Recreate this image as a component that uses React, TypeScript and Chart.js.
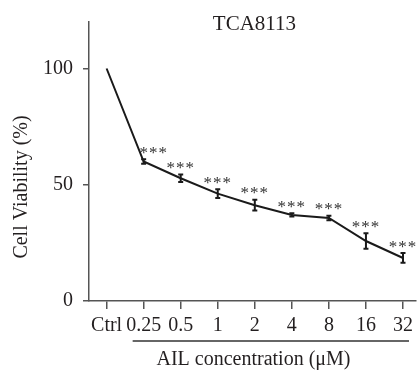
import React, { useEffect, useRef } from "react";
import { Chart, registerables } from "chart.js";

Chart.register(...registerables);

const categories = ["Ctrl", "0.25", "0.5", "1", "2", "4", "8", "16", "32"];
const viability = [100, 60.0, 52.8, 46.2, 41.2, 37.0, 35.7, 25.8, 18.5];
const errors = [0, 1.0, 1.6, 1.9, 2.3, 0.7, 1.0, 3.3, 2.1];
const significance = ["", "***", "***", "***", "***", "***", "***", "***", "***"];
const yTicks = [0, 50, 100];
const chartTitle = "TCA8113";
const xTitle = "AIL concentration (\u03bcM)";
const yTitle = "Cell Viability (%)";

const FONT = "'Liberation Serif', 'Times New Roman', serif";
const TEXT = "#231f20";
const AXIS = "#555555";

const annotatePlugin = {
  id: "annotate",
  afterDatasetsDraw(chart: any) {
    const { ctx, chartArea, scales } = chart;
    const xs = scales.x;
    const ys = scales.y;
    ctx.save();
    // error bars
    ctx.strokeStyle = "#1a1a1a";
    ctx.lineWidth = 2;
    viability.forEach((v, i) => {
      const e = errors[i];
      if (!e) return;
      const x = xs.getPixelForValue(i);
      const y1 = ys.getPixelForValue(v - e);
      const y2 = ys.getPixelForValue(v + e);
      ctx.beginPath();
      ctx.moveTo(x, y1);
      ctx.lineTo(x, y2);
      ctx.moveTo(x - 2.5, y1);
      ctx.lineTo(x + 2.5, y1);
      ctx.moveTo(x - 2.5, y2);
      ctx.lineTo(x + 2.5, y2);
      ctx.stroke();
    });
    // significance stars
    ctx.fillStyle = "#333333";
    ctx.font = `17px ${FONT}`;
    (ctx as any).letterSpacing = "1px";
    ctx.textAlign = "center";
    ctx.textBaseline = "middle";
    viability.forEach((v, i) => {
      const s = significance[i];
      if (!s) return;
      const x = xs.getPixelForValue(i) + (i === 1 ? 10 : 0);
      const y = ys.getPixelForValue(v + errors[i]) - 6;
      ctx.fillText(s, x, y);
    });
    (ctx as any).letterSpacing = "0px";
    // chart title
    ctx.fillStyle = TEXT;
    ctx.font = `21px ${FONT}`;
    ctx.textBaseline = "alphabetic";
    ctx.fillText(chartTitle, (chartArea.left + chartArea.right) / 2 + 2, 30);
    // x axis bracket line + title
    ctx.strokeStyle = "#333333";
    ctx.lineWidth = 1.5;
    ctx.beginPath();
    ctx.moveTo(xs.getPixelForValue(1) - 11, 341);
    ctx.lineTo(xs.getPixelForValue(8) + 6, 341);
    ctx.stroke();
    ctx.font = `20px ${FONT}`;
    ctx.fillText(xTitle, (chartArea.left + chartArea.right) / 2 + 1, 365);
    // y title
    ctx.translate(27, 187);
    ctx.rotate(-Math.PI / 2);
    ctx.fillText(yTitle, 0, 0);
    ctx.restore();
  },
};

export default function App() {
  const ref = useRef<HTMLCanvasElement>(null);
  useEffect(() => {
    if (!ref.current) return;
    const chart = new Chart(ref.current, {
      type: "line",
      data: {
        datasets: [
          {
            data: viability.map((v, i) => ({ x: i, y: v })),
            borderColor: "#1a1a1a",
            borderWidth: 2,
            pointRadius: 0,
            tension: 0,
            fill: false,
          },
        ],
      },
      options: {
        animation: false,
        responsive: false,
        maintainAspectRatio: false,
        layout: { padding: { top: 8, left: 0, right: 0, bottom: 0 } },
        plugins: { legend: { display: false }, tooltip: { enabled: false } },
        scales: {
          x: {
            type: "linear",
            min: -0.475,
            max: 8.35,
            afterBuildTicks: (axis: any) => {
              axis.ticks = categories.map((_, i) => ({ value: i }));
            },
            afterFit: (axis: any) => {
              axis.height = 73;
            },
            grid: {
              drawOnChartArea: false,
              drawTicks: true,
              tickLength: 8,
              color: AXIS,
              lineWidth: 1.5,
            },
            border: { display: true, color: AXIS, width: 1.5 },
            ticks: {
              autoSkip: false,
              maxRotation: 0,
              minRotation: 0,
              padding: 5,
              color: TEXT,
              font: { family: FONT, size: 20 },
              callback: (value: any) => categories[value] ?? "",
            },
          },
          y: {
            type: "linear",
            min: 0,
            max: 120,
            afterBuildTicks: (axis: any) => {
              axis.ticks = yTicks.map((v) => ({ value: v }));
            },
            afterFit: (axis: any) => {
              axis.width = 89;
            },
            grid: {
              drawOnChartArea: false,
              drawTicks: true,
              tickLength: 6,
              color: AXIS,
              lineWidth: 1.5,
            },
            border: { display: true, color: AXIS, width: 1.5 },
            ticks: {
              padding: 10,
              color: TEXT,
              font: { family: FONT, size: 20 },
            },
          },
        },
      },
      plugins: [annotatePlugin],
    });
    return () => chart.destroy();
  }, []);
  return (
    <div style={{ position: "fixed", left: 0, top: 0, width: 418, height: 374, background: "#fff" }}>
      <canvas ref={ref} width={418} height={374} style={{ display: "block" }} />
    </div>
  );
}
